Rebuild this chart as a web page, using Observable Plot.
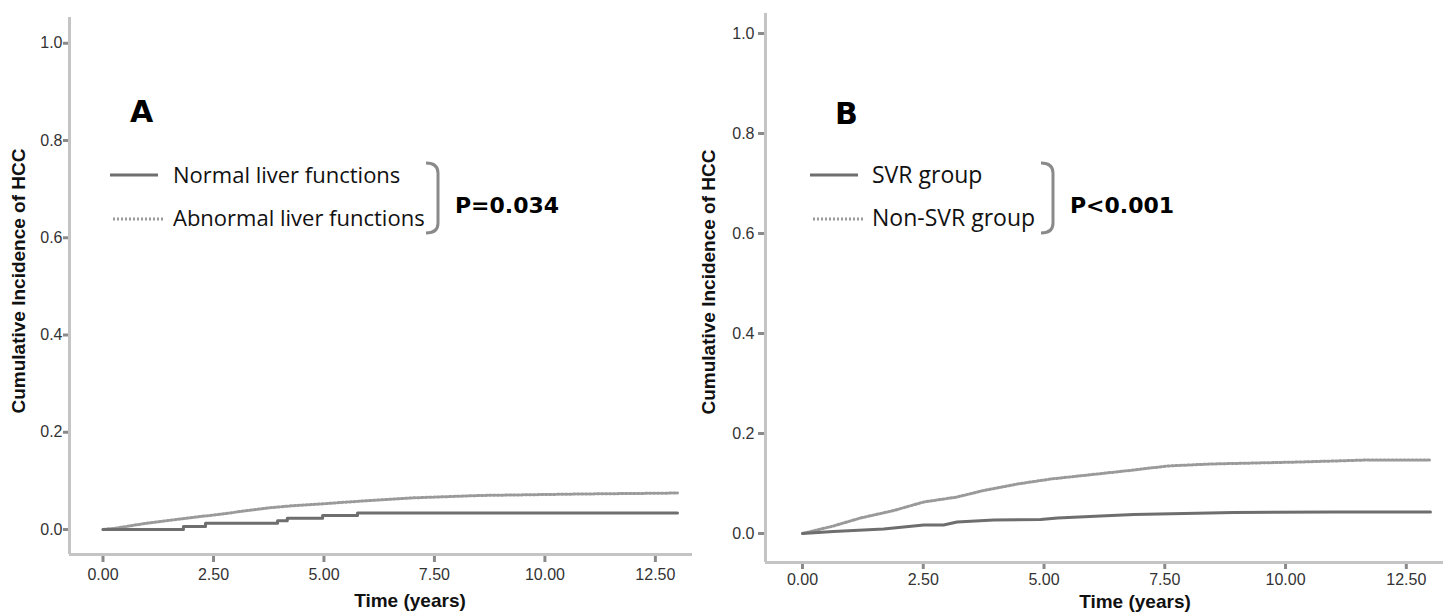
<!DOCTYPE html>
<html>
<head>
<meta charset="utf-8">
<script src="https://cdn.jsdelivr.net/npm/d3@7"></script>
<script src="https://cdn.jsdelivr.net/npm/@observablehq/plot@0.6"></script>
<style>
  html, body { margin: 0; padding: 0; background: #fff; }
  #wrap { position: relative; width: 1450px; height: 615px; overflow: hidden; background: #fff; }
  #wrap svg { position: absolute; top: 0; overflow: visible; background: transparent; }
</style>
</head>
<body>
<div id="wrap"></div>
<script>
// ---------- data ----------
const yTicks = [0, 0.2, 0.4, 0.6, 0.8, 1.0];
const xTicks = [0, 2.5, 5, 7.5, 10, 12.5];

// Panel A
const normalTime = [0, 1.82, 2.32, 3.95, 4.17, 4.97, 5.76, 13.0];
const normalInc  = [0, 0.006, 0.013, 0.018, 0.023, 0.029, 0.034, 0.034];
const abnTime = [0, 0.3, 0.92, 1.5, 2.05, 2.7, 3.27, 3.8, 4.31, 5.0, 5.44, 6.12, 7.0, 8.54, 10.8, 13.0];
const abnInc  = [0, 0.003, 0.012, 0.019, 0.025, 0.032, 0.039, 0.045, 0.049, 0.053, 0.056, 0.060, 0.065, 0.070, 0.073, 0.075];

// Panel B
const svrTime = [0, 0.64, 1.68, 2.51, 2.92, 3.2, 3.96, 4.93, 5.28, 6.17, 6.86, 8.93, 11.0, 13.0];
const svrInc  = [0, 0.004, 0.009, 0.017, 0.017, 0.023, 0.027, 0.028, 0.031, 0.035, 0.038, 0.042, 0.043, 0.043];
const nonTime = [0, 0.64, 1.2, 1.89, 2.51, 3.2, 3.75, 4.45, 5.14, 6.1, 6.86, 7.55, 8.45, 10.3, 11.7, 13.0];
const nonInc  = [0, 0.015, 0.031, 0.046, 0.063, 0.073, 0.086, 0.099, 0.109, 0.119, 0.127, 0.135, 0.139, 0.143, 0.147, 0.147];

const legendA = ["Normal liver functions", "Abnormal liver functions"];
const legendB = ["SVR group", "Non-SVR group"];

const zip = (t, v) => t.map((d, i) => ({t: d, v: v[i]}));

const AXIS = "#c4c4c4", TICK = "#8a8a8a", SOLID = "#6e6e6e", DOT = "#9a9a9a";

function panel(o) {
  const svg = Plot.plot({
    width: o.width, height: 615,
    marginLeft: o.ml, marginRight: o.mr, marginTop: o.mt, marginBottom: o.mb,
    style: {background: "transparent", fontFamily: "'Liberation Sans', Arial, sans-serif"},
    x: {domain: o.xd, ticks: xTicks, tickFormat: d => d.toFixed(2)},
    y: {domain: o.yd, ticks: yTicks, tickFormat: d => d.toFixed(1)},
    marks: [
      Plot.axisY(yTicks, {tickSize: o.yts, tickPadding: o.ytp, stroke: TICK, strokeWidth: 3,
        fill: "#333", fontSize: 16, label: null, tickFormat: d => d.toFixed(1)}),
      Plot.axisX(xTicks, {tickSize: o.xts, tickPadding: o.xtp, stroke: TICK, strokeWidth: 3,
        fill: "#333", fontSize: 16, label: null, tickFormat: d => d.toFixed(2)}),
      Plot.ruleX([o.xd[0]], {stroke: AXIS, strokeWidth: 3}),
      Plot.ruleY([o.yd[0]], {stroke: AXIS, strokeWidth: 3}),
      Plot.line(o.dotted, {x: "t", y: "v", stroke: DOT, strokeWidth: 3, strokeDasharray: "2,2", curve: o.dotCurve}),
      Plot.line(o.solid, {x: "t", y: "v", stroke: SOLID, strokeWidth: 3, curve: o.solidCurve})
    ]
  });
  svg.style.left = o.left + "px";
  const g = d3.select(svg);
  const txt = () => g.append("text").attr("text-anchor", "start");
  // y axis title
  g.append("text")
    .attr("transform", `translate(${o.ytx},${o.yty}) rotate(-90)`)
    .attr("text-anchor", "middle")
    .attr("font-family", "'Liberation Sans', Arial, sans-serif")
    .attr("font-weight", "bold").attr("font-size", 19).attr("fill", "#111")
    .text("Cumulative Incidence of HCC");
  // x axis title
  g.append("text")
    .attr("x", o.xtx).attr("y", o.xty)
    .attr("text-anchor", "middle")
    .attr("font-family", "'Liberation Sans', Arial, sans-serif")
    .attr("font-weight", "bold").attr("font-size", 19).attr("fill", "#111")
    .text("Time (years)");
  // panel letter
  txt().attr("x", o.lx).attr("y", o.ly)
    .attr("font-family", "'DejaVu Sans', sans-serif")
    .attr("font-weight", "bold").attr("font-size", 30).attr("fill", "#000")
    .text(o.letter);
  // legend
  g.append("line").attr("x1", o.lgx1).attr("x2", o.lgx1 + 48).attr("y1", 175).attr("y2", 175)
    .attr("stroke", SOLID).attr("stroke-width", 3);
  g.append("line").attr("x1", o.lgx1 + 3).attr("x2", o.lgx1 + 53).attr("y1", 219).attr("y2", 219)
    .attr("stroke", DOT).attr("stroke-width", 3).attr("stroke-dasharray", "2,2");
  o.legend.forEach((s, i) => {
    txt().attr("x", o.lgtx).attr("y", 183 + i * 43)
      .attr("font-family", "'Open Sans', 'Noto Sans', sans-serif")
      .attr("font-size", o.lfs).attr("fill", "#111").text(s);
  });
  // bracket
  const bx = o.bx;
  g.append("path")
    .attr("d", `M${bx},163 Q${bx + 12},163 ${bx + 12},173 L${bx + 12},223 Q${bx + 12},233 ${bx},233`)
    .attr("fill", "none").attr("stroke", "#8a8a8a").attr("stroke-width", 3);
  txt().attr("x", o.px).attr("y", 213)
    .attr("font-family", "'DejaVu Sans', sans-serif")
    .attr("font-weight", "bold").attr("font-size", 22).attr("fill", "#000")
    .text(o.p);
  document.getElementById("wrap").appendChild(svg);
}

panel({
  left: 0, width: 700, ml: 69, mr: 8, mt: 17, mb: 61,
  xd: [-0.758, 13.34], yd: [-0.0514, 1.053],
  yts: 6, ytp: 1, xts: 8, xtp: 6,
  solid: zip(normalTime, normalInc), solidCurve: "step-after",
  dotted: zip(abnTime, abnInc), dotCurve: "linear",
  ytx: 25, yty: 281, xtx: 410, xty: 607,
  letter: "A", lx: 130, ly: 122,
  legend: legendA, lgx1: 110, lgtx: 173, lfs: 22,
  bx: 426, px: 455, p: "P=0.034"
});

panel({
  left: 700, width: 750, ml: 65, mr: 7, mt: 13, mb: 53,
  xd: [-0.766, 13.27], yd: [-0.058, 1.04],
  yts: 7, ytp: 4, xts: 7, xtp: 4,
  solid: zip(svrTime, svrInc), solidCurve: "linear",
  dotted: zip(nonTime, nonInc), dotCurve: "linear",
  ytx: 15, yty: 282, xtx: 435, xty: 608,
  letter: "B", lx: 135, ly: 124,
  legend: legendB, lgx1: 110, lgtx: 172, lfs: 23,
  bx: 341, px: 370, p: "P<0.001"
});
</script>
</body>
</html>
